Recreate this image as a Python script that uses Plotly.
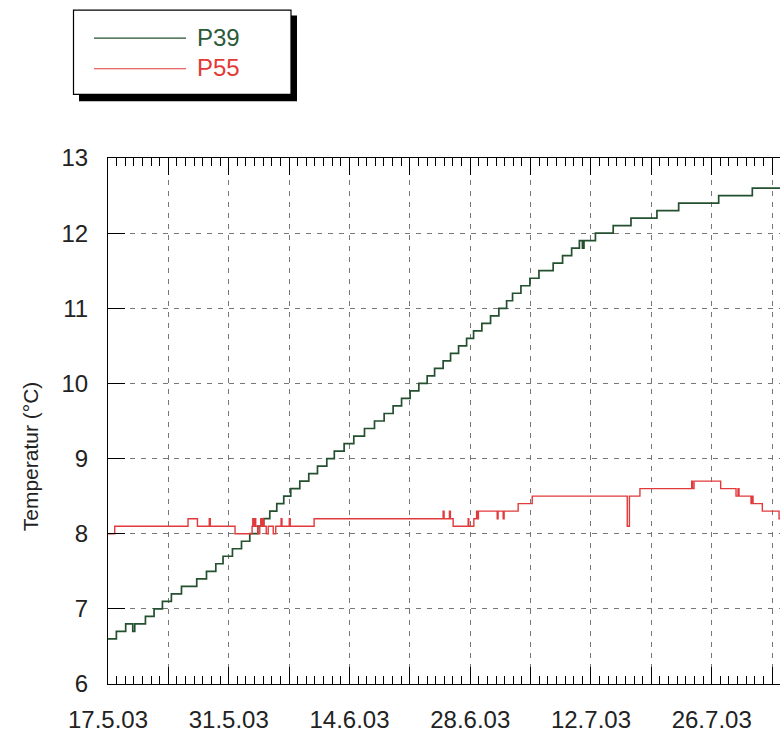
import pandas as pd
import plotly.graph_objects as go

# ---------------- data ----------------
start_date = "2003-05-17"
end_day = 77.92  # visible right edge (days after start)

# P39: step changes (days after 17.5.03, value in °C)
p39_day = [0, 0.97, 2.05, 2.87, 3.10, 4.34, 5.34, 6.31, 7.35, 8.52,
           10.29, 11.42, 12.50, 13.34, 14.43, 15.48, 16.44, 17.37, 18.06, 18.76,
           19.57, 20.38, 21.19, 22.24, 23.28, 24.29, 25.37, 26.24, 27.38, 28.50,
           29.74, 30.90, 32.02, 33.06, 34.04, 35.03, 36.04, 37.01, 37.87, 38.86,
           39.72, 40.65, 41.58, 42.39, 43.35, 44.36, 45.32, 46.22, 46.91, 47.88,
           48.92, 49.97, 51.62, 52.71, 53.76, 54.66, 55.01, 55.19, 56.52, 58.58,
           60.64, 63.65, 66.17, 70.81, 74.71, 79.0]
p39_val = [6.6, 6.7, 6.8, 6.7, 6.8, 6.9, 7.0, 7.1, 7.2, 7.3,
           7.4, 7.5, 7.6, 7.7, 7.8, 7.9, 8.0, 8.1, 8.2, 8.3,
           8.4, 8.5, 8.6, 8.7, 8.8, 8.9, 9.0, 9.1, 9.2, 9.3,
           9.4, 9.5, 9.6, 9.7, 9.8, 9.9, 10.0, 10.1, 10.2, 10.3,
           10.4, 10.5, 10.6, 10.7, 10.8, 10.9, 11.0, 11.1, 11.2, 11.3,
           11.4, 11.5, 11.6, 11.7, 11.8, 11.9, 11.8, 11.9, 12.0, 12.1,
           12.2, 12.3, 12.4, 12.5, 12.6, 12.6]

# P55: step changes
p55_day = [0, 0.78, 9.28, 10.37, 11.74, 11.86, 14.73, 16.71, 16.79, 16.94,
           17.02, 17.13, 17.37, 17.60, 17.71, 17.83, 17.95, 18.06, 18.35, 18.58,
           19.16, 19.45, 20.07, 20.17, 21.02, 21.13, 23.90, 38.86, 38.97, 39.59,
           39.70, 40.02, 41.76, 41.84, 42.42, 42.74, 42.83, 42.95, 45.13, 45.23,
           45.82, 45.93, 47.56, 49.19, 60.21, 60.46, 61.68, 67.68, 67.77, 67.95,
           71.04, 72.82, 73.05, 73.17, 74.56, 74.68, 74.79, 75.87, 77.81, 79.0]
p55_val = [8.0, 8.1, 8.2, 8.1, 8.2, 8.1, 8.0, 8.1, 8.2, 8.1,
           8.2, 8.1, 8.0, 8.1, 8.2, 8.1, 8.2, 8.1, 8.0, 8.1,
           8.0, 8.1, 8.2, 8.1, 8.2, 8.1, 8.2, 8.3, 8.2, 8.3,
           8.2, 8.1, 8.2, 8.1, 8.2, 8.3, 8.2, 8.3, 8.2, 8.3,
           8.2, 8.3, 8.4, 8.5, 8.1, 8.5, 8.6, 8.7, 8.6, 8.7,
           8.6, 8.5, 8.6, 8.5, 8.4, 8.5, 8.4, 8.3, 8.2, 8.2]

tick_dates = ["2003-05-17", "2003-05-24", "2003-05-31", "2003-06-07", "2003-06-14",
              "2003-06-21", "2003-06-28", "2003-07-05", "2003-07-12", "2003-07-19",
              "2003-07-26", "2003-08-02"]
tick_labels = ["17.5.03", "", "31.5.03", "", "14.6.03", "", "28.6.03", "",
               "12.7.03", "", "26.7.03", ""]
series_names = ["P39", "P55"]
y_title = "Temperatur (°C)"
series_colors = ["#23502f", "#e23a3c"]
text_colors = ["#2b5a39", "#e53935"]

# ---------------- figure ----------------
t0 = pd.Timestamp(start_date)
to_time = lambda days: [t0 + pd.Timedelta(days=d) for d in days]

fig = go.Figure()
fig.add_trace(go.Scatter(x=to_time(p39_day), y=p39_val, mode="lines", name=series_names[0],
                         line=dict(color=series_colors[0], width=1.7, shape="hv"), showlegend=False))
fig.add_trace(go.Scatter(x=to_time(p55_day), y=p55_val, mode="lines", name=series_names[1],
                         line=dict(color=series_colors[1], width=1.4, shape="hv"), showlegend=False))

W, H = 780, 733
L, R, T, B = 108, 0, 157.5, 42
pw, ph = W - L - R, H - T - B

def px(X):
    return (X - L) / pw

def py(Y):
    return (H - B - Y) / ph

font = "Liberation Sans, Arial, sans-serif"

# legend box with shadow
shapes = [
    dict(type="rect", xref="paper", yref="paper", x0=px(79), x1=px(297), y0=py(100), y1=py(13),
         fillcolor="black", line=dict(width=0), layer="above"),
    dict(type="rect", xref="paper", yref="paper", x0=px(73.5), x1=px(291), y0=py(93), y1=py(7.5),
         fillcolor="white", line=dict(color="black", width=1.2), layer="above"),
]
annotations = []
for i, (yy) in enumerate([36, 67]):
    shapes.append(dict(type="line", xref="paper", yref="paper", x0=px(94), x1=px(186),
                       y0=py(yy), y1=py(yy), line=dict(color=series_colors[i], width=1.2),
                       layer="above"))
    annotations.append(dict(xref="paper", yref="paper", x=px(195), y=py(yy - 1), text=series_names[i],
                            showarrow=False, xanchor="left", yanchor="middle",
                            font=dict(family=font, size=24, color=text_colors[i])))

annotations.append(dict(xref="paper", yref="paper", x=px(30), y=py(460), text=y_title,
                        textangle=-90, showarrow=False, xanchor="center", yanchor="middle",
                        font=dict(family=font, size=21, color="#222222")))

fig.update_layout(
    width=W, height=H,
    margin=dict(l=L, r=R, t=T, b=B, pad=0),
    paper_bgcolor="white", plot_bgcolor="white",
    font=dict(family=font, size=24, color="#222222"),
    shapes=shapes, annotations=annotations,
    showlegend=False,
)

fig.update_xaxes(
    type="date",
    range=[t0, t0 + pd.Timedelta(days=end_day)],
    tickvals=tick_dates, ticktext=tick_labels,
    ticks="inside", ticklen=17, tickwidth=1, tickcolor="black",
    showline=True, linecolor="black", linewidth=1, mirror="ticks",
    showgrid=True, gridcolor="#777777", gridwidth=1, griddash="5px,6px",
    ticklabelstandoff=14,
    tickfont=dict(size=24, color="#222222"),
    minor=dict(dtick=86400000, tick0=start_date, ticks="inside", ticklen=8,
               tickcolor="black", tickwidth=1, showgrid=False),
    zeroline=False,
)
fig.update_yaxes(
    range=[6, 13], dtick=1, tick0=6,
    ticks="inside", ticklen=17, tickwidth=1, tickcolor="black",
    showline=True, linecolor="black", linewidth=1,
    showgrid=True, gridcolor="#777777", gridwidth=1, griddash="5px,6px",
    ticklabelstandoff=14,
    tickfont=dict(size=24, color="#222222"),
    zeroline=False,
)

fig.write_html("out.html")
